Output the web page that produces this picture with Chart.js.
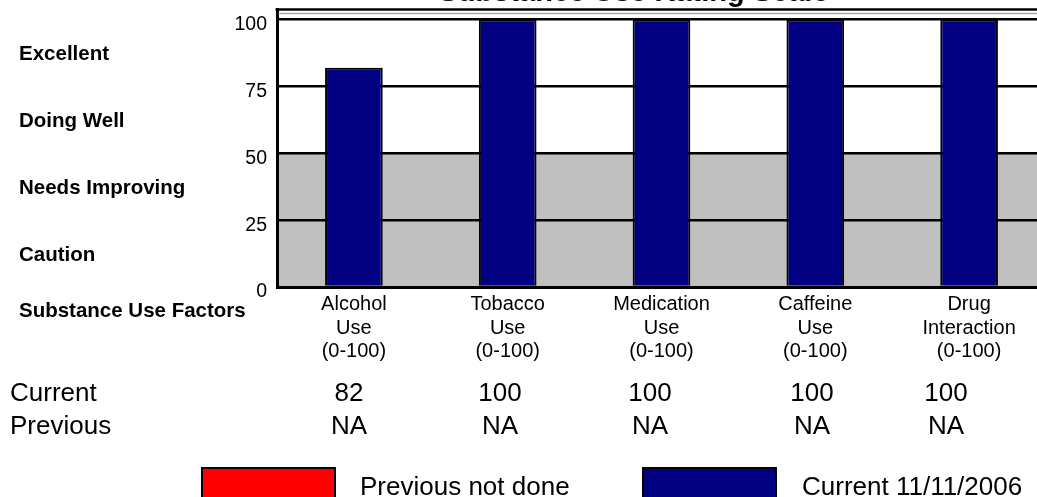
<!DOCTYPE html>
<html>
<head>
<meta charset="utf-8">
<title>Substance Use Rating Scale</title>
<script src="https://cdn.jsdelivr.net/npm/chart.js@4/dist/chart.umd.min.js"></script>
<style>
  html, body { margin: 0; padding: 0; background: #fff; overflow: hidden; }
  canvas { display: block; }
</style>
</head>
<body>
<canvas id="chart" width="1060" height="497"></canvas>
<script>
// ---- data ----
const categories = [
  ['Alcohol', 'Use', '(0-100)'],
  ['Tobacco', 'Use', '(0-100)'],
  ['Medication', 'Use', '(0-100)'],
  ['Caffeine', 'Use', '(0-100)'],
  ['Drug', 'Interaction', '(0-100)']
];
const currentValues = [82, 100, 100, 100, 100];
const previousValues = [null, null, null, null, null];
const yTicks = [0, 25, 50, 75, 100];
const bandNames = ['Caution', 'Needs Improving', 'Doing Well', 'Excellent'];
const bandStarts = [0, 25, 50, 75];
const bandEnds = [25, 50, 75, 100];
const shadedFrom = 0;
const shadedTo = 50;
const titleText = 'Substance Use Rating Scale';
const factorsLabel = 'Substance Use Factors';
const rowNames = ['Current', 'Previous'];
const currentLabel = 'Current 11/11/2006';
const previousLabel = 'Previous not done';

// ---- layout ----
const FONT = "'Liberation Sans', Arial, sans-serif";
const tableColumnX = [349, 500, 650, 812, 946];

const fmt = v => (v === null || v === undefined) ? 'NA' : String(v);

const decorations = {
  id: 'decorations',
  beforeDraw(chart) {
    const { ctx, chartArea: a, scales: { y } } = chart;
    ctx.save();
    ctx.fillStyle = '#ffffff';
    ctx.fillRect(0, 0, chart.width, chart.height);
    // shaded lower half of the rating scale
    ctx.fillStyle = '#c0c0c0';
    const top = y.getPixelForValue(shadedTo);
    const bot = y.getPixelForValue(shadedFrom);
    ctx.fillRect(a.left, top, a.right - a.left, bot - top);
    ctx.restore();
  },
  afterDraw(chart) {
    const { ctx, chartArea: a, scales: { y } } = chart;
    ctx.save();

    // frame along the top of the plot
    ctx.strokeStyle = '#000';
    ctx.lineWidth = 2.5;
    ctx.beginPath();
    ctx.moveTo(a.left - 1.5, a.top + 0.5);
    ctx.lineTo(chart.width, a.top + 0.5);
    ctx.stroke();
    ctx.strokeStyle = '#a8a8a8';
    ctx.lineWidth = 1.5;
    ctx.beginPath();
    ctx.moveTo(a.left + 1.5, a.top + 4.5);
    ctx.lineTo(chart.width, a.top + 4.5);
    ctx.stroke();

    // title
    ctx.fillStyle = '#000';
    ctx.font = 'bold 29px ' + FONT;
    ctx.textAlign = 'center';
    ctx.textBaseline = 'alphabetic';
    ctx.fillText(titleText, 633.5, 0.5);

    // band names at the left
    ctx.font = 'bold 20.5px ' + FONT;
    ctx.textAlign = 'left';
    ctx.textBaseline = 'middle';
    bandNames.forEach((name, i) => {
      const mid = y.getPixelForValue((bandStarts[i] + bandEnds[i]) / 2);
      ctx.fillText(name, 19, mid + 1.5);
    });
    ctx.fillText(factorsLabel, 19, 311);

    // value table
    ctx.font = '26px ' + FONT;
    ctx.textBaseline = 'alphabetic';
    ctx.textAlign = 'left';
    ctx.fillText(rowNames[0], 10, 401);
    ctx.fillText(rowNames[1], 10, 433.5);
    ctx.textAlign = 'center';
    currentValues.forEach((v, i) => ctx.fillText(fmt(v), tableColumnX[i], 401));
    previousValues.forEach((v, i) => ctx.fillText(fmt(v), tableColumnX[i], 433.5));

    // legend
    const ds = chart.data.datasets;
    const items = [
      { box: 201, text: 360, ds: ds[1] },
      { box: 642, text: 802, ds: ds[0] }
    ];
    items.forEach(it => {
      ctx.fillStyle = it.ds.backgroundColor;
      ctx.fillRect(it.box, 467, 135, 40);
      ctx.strokeStyle = '#000';
      ctx.lineWidth = 2;
      ctx.strokeRect(it.box + 1, 468, 133, 40);
      ctx.fillStyle = '#000';
      ctx.textAlign = 'left';
      ctx.font = '26px ' + FONT;
      ctx.fillText(it.ds.label, it.text, 495);
    });

    ctx.restore();
  }
};

new Chart(document.getElementById('chart'), {
  type: 'bar',
  data: {
    labels: categories,
    datasets: [
      {
        label: currentLabel,
        data: currentValues,
        backgroundColor: '#000080',
        borderColor: '#000000',
        borderWidth: 2,
        barPercentage: 0.375,
        categoryPercentage: 1,
        grouped: false,
        order: 1
      },
      {
        label: previousLabel,
        data: previousValues,
        backgroundColor: '#ff0000',
        borderColor: '#000000',
        borderWidth: 2,
        barPercentage: 0.375,
        categoryPercentage: 1,
        grouped: false,
        order: 2
      }
    ]
  },
  options: {
    responsive: false,
    animation: false,
    layout: { padding: { top: 9, right: 14, bottom: 0, left: 0 } },
    plugins: {
      legend: { display: false },
      title: { display: false },
      tooltip: { enabled: false }
    },
    scales: {
      x: {
        afterFit(scale) {
          scale.height = 210;
          scale.paddingLeft = 0;
          scale.paddingRight = 0;
        },
        grid: { display: false, drawTicks: false },
        border: { display: true, color: '#000', width: 3 },
        ticks: {
          color: '#000',
          font: { family: FONT, size: 20, lineHeight: 1.175 },
          padding: 6,
          maxRotation: 0,
          autoSkip: false
        }
      },
      y: {
        min: 0,
        max: 104,
        afterFit(scale) {
          scale.width = 277;
          scale.paddingTop = 0;
          scale.paddingBottom = 0;
        },
        afterBuildTicks(scale) { scale.ticks = yTicks.map(v => ({ value: v })); },
        grid: { color: '#000', lineWidth: 2.5, drawTicks: false },
        border: { display: true, color: '#000', width: 3 },
        ticks: {
          color: '#000',
          font: { family: FONT, size: 19.5 },
          padding: 10,
          labelOffset: 5
        }
      }
    }
  },
  plugins: [decorations]
});
</script>
</body>
</html>
